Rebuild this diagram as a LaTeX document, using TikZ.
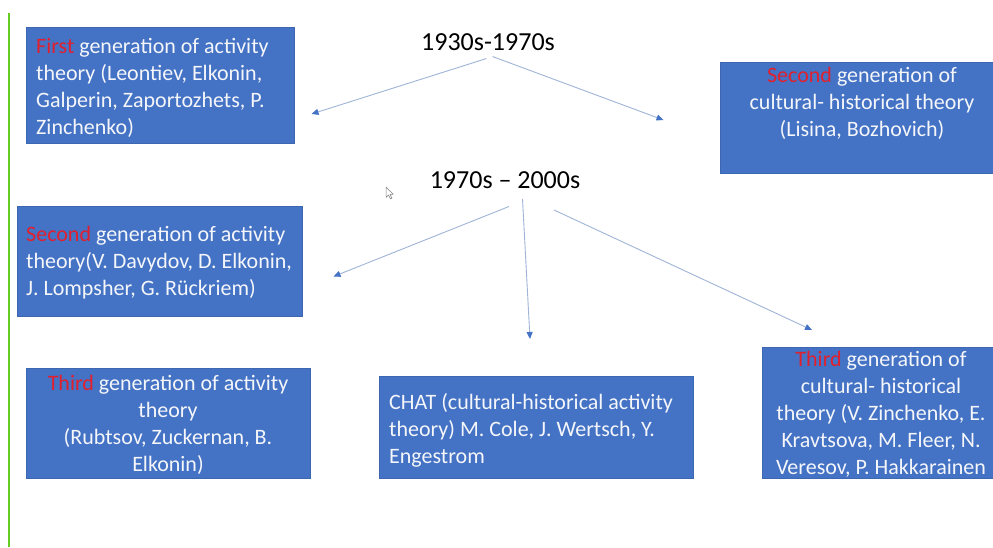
\documentclass[tikz,border=0pt]{standalone}
\usepackage{fontspec}
\setmainfont{Carlito}
\usetikzlibrary{arrows.meta}
\definecolor{boxblue}{HTML}{4472C4}
\definecolor{boxedge}{HTML}{3E67B2}
\definecolor{hlred}{HTML}{E0202E}
\definecolor{linegray}{HTML}{9FB4D6}
\definecolor{bargreen}{HTML}{66CC22}
\definecolor{txtwhite}{HTML}{F4F6FA}
\newcommand\hl[1]{\textcolor{hlred}{#1}}
\begin{document}
\begin{tikzpicture}[x=1pt,y=-1pt,
  box/.style={draw=boxedge, fill=boxblue, line width=0.6pt, inner sep=0pt},
  txt/.style={text=txtwhite, font=\fontsize{22}{27}\selectfont, inner sep=0pt},
  title/.style={text=black, font=\fontsize{26}{30}\selectfont, inner sep=0pt},
  conn/.style={draw=linegray, line width=0.9pt, -{Triangle[length=7pt,width=6pt,color=boxblue]}}]
\useasboundingbox[fill=white] (0,0) rectangle (993,547);
% green bar
\draw[bargreen, line width=2pt] (9,13) -- (9,547);
% boxes
\node[box, minimum width=268pt, minimum height=116pt] (b1) at (160,85) {};
\node[txt, anchor=north west, align=left] (t1) at (36,38)
  {\hl{First} generation of activity\\theory (Leontiev, Elkonin,\\Galperin, Zaportozhets, P.\\Zinchenko)};
\node[box, minimum width=274pt, minimum height=111pt] (b2) at (857,117.5) {};
\node[txt, anchor=north, align=center] (t2) at (862,67)
  {\hl{Second} generation of\\cultural- historical theory\\(Lisina, Bozhovich)};
\node[box, minimum width=285pt, minimum height=110pt] (b3) at (159.5,261) {};
\node[txt, anchor=north west, align=left] (t3) at (26,226)
  {\hl{Second} generation of activity\\theory(V. Davydov, D. Elkonin,\\J. Lompsher, G. Rückriem)};
\node[box, minimum width=284pt, minimum height=110pt] (b4) at (168,423) {};
\node[txt, anchor=north, align=center] (t4) at (168,375)
  {\hl{Third} generation of activity\\theory\\(Rubtsov, Zuckernan, B.\\Elkonin)};
\node[box, minimum width=314pt, minimum height=102pt] (b5) at (536,427) {};
\node[txt, anchor=north west, align=left] (t5) at (389,393)
  {CHAT (cultural-historical activity\\theory) M. Cole, J. Wertsch, Y.\\Engestrom};
\node[box, minimum width=232pt, minimum height=131pt] (b6) at (878,412.5) {};
\node[txt, anchor=north, align=center] (t6) at (881,351)
  {\hl{Third} generation of\\cultural- historical\\theory (V. Zinchenko, E.\\Kravtsova, M. Fleer, N.\\Veresov, P. Hakkarainen};
% titles
\node[title] (h1) at (488,42) {1930s-1970s};
\node[title] (h2) at (505,180) {1970s – 2000s};
% connectors
\coordinate (s1) at (486.5,58.5);
\coordinate (e1) at (311.5,114);
\coordinate (s2) at (492.5,56.5);
\coordinate (e2) at (663.5,120);
\coordinate (s3) at (509,206.5);
\coordinate (e3) at (333.5,276.5);
\coordinate (s4) at (522.5,199);
\coordinate (e4) at (530,339);
\coordinate (s5) at (554,210);
\coordinate (e5) at (812,330);
\draw[conn] (s1) -- (e1);
\draw[conn] (s2) -- (e2);
\draw[conn] (s3) -- (e3);
\draw[conn] (s4) -- (e4);
\draw[conn] (s5) -- (e5);
% mouse pointer
\draw[gray, line width=0.5pt, fill=white, line join=round]
  (386,187) -- (386,197.5) -- (388.5,195) -- (390.5,199) -- (392,198.3) -- (390,194.3) -- (393.2,194.3) -- cycle;
\end{tikzpicture}
\end{document}
